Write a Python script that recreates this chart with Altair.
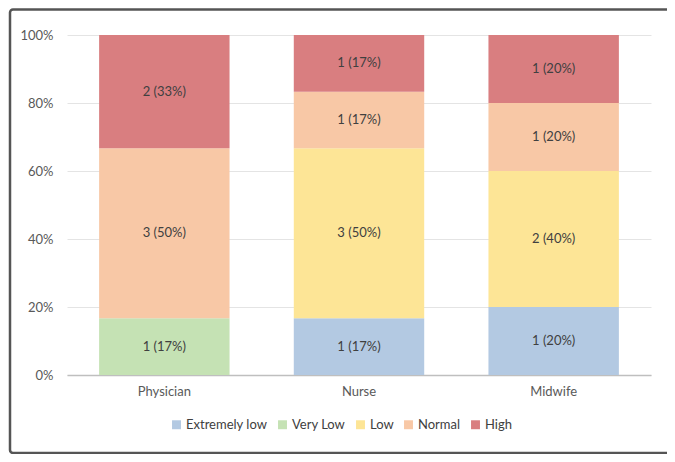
import altair as alt
import pandas as pd

professions = ["Physician", "Physician", "Physician",
               "Nurse", "Nurse", "Nurse", "Nurse",
               "Midwife", "Midwife", "Midwife", "Midwife"]
levels = ["Very Low", "Normal", "High",
          "Extremely low", "Low", "Normal", "High",
          "Extremely low", "Low", "Normal", "High"]
counts = [1, 3, 2,
          1, 3, 1, 1,
          1, 2, 1, 1]

level_order = ["Extremely low", "Very Low", "Low", "Normal", "High"]
level_colors = ["#b3c9e2", "#c5e2b4", "#fde596", "#f8c8a6", "#d97e80"]
category_order = ["Physician", "Nurse", "Midwife"]

df = pd.DataFrame({"profession": professions, "level": levels, "count": counts})
df["rank"] = [level_order.index(l) for l in levels]

FONT = "Lato"

base = alt.Chart(df).transform_joinaggregate(
    total="sum(count)", groupby=["profession"]
).transform_calculate(
    pct="datum.count / datum.total"
).transform_stack(
    stack="count", groupby=["profession"], as_=["y0", "y1"],
    offset="normalize", sort=[alt.SortField("rank", order="ascending")]
).transform_calculate(
    ymid="(datum.y0 + datum.y1) / 2",
    label="datum.count + ' (' + format(datum.pct, '.0%') + ')'"
)

xenc = alt.X("profession:N", sort=category_order, title=None,
             scale=alt.Scale(paddingInner=0.33, paddingOuter=0.165),
             axis=alt.Axis(labelAngle=0, ticks=False, domainColor="#bfbfbf",
                           domainWidth=1.5, labelPadding=10, labelFontSize=13,
                           labelColor="#595959", labelFont=FONT))

bars = base.mark_bar().encode(
    x=xenc,
    y=alt.Y("y0:Q", scale=alt.Scale(domain=[0, 1]), title=None,
            axis=alt.Axis(format=".0%", values=[0, 0.2, 0.4, 0.6, 0.8, 1.0],
                          domain=False, ticks=False, labelPadding=14,
                          labelFontSize=13, labelColor="#595959", labelFont=FONT,
                          gridColor="#e4e4e4", gridWidth=1)),
    y2="y1:Q",
    color=alt.Color("level:N", sort=level_order,
                    scale=alt.Scale(domain=level_order, range=level_colors),
                    legend=alt.Legend(title=None, orient="none", direction="horizontal",
                                      legendX=103, legendY=383,
                                      symbolType="square", symbolSize=80,
                                      symbolStrokeWidth=0, labelFontSize=13,
                                      labelColor="#404040", labelFont=FONT,
                                      columnPadding=8, labelOffset=3)),
)

texts = base.mark_text(fontSize=13, color="#404040", font=FONT).encode(
    x=alt.X("profession:N", sort=category_order),
    y=alt.Y("ymid:Q"),
    text="label:N",
)

frame = alt.Chart(pd.DataFrame({"a": [0]})).mark_rect(
    fill=None, stroke="#555555", strokeWidth=2.5, cornerRadius=3
).encode(
    x=alt.value(-57), x2=alt.value(656),
    y=alt.value(-25.5), y2=alt.value(418),
)

chart = alt.layer(bars, texts, frame).properties(
    width=584, height=340,
    autosize=alt.AutoSizeParams(type="none"),
    padding={"left": 59, "top": 27, "right": 16, "bottom": 79},
).configure_view(stroke=None)

chart.save("out.html", embed_options={"renderer": "svg", "actions": False})
